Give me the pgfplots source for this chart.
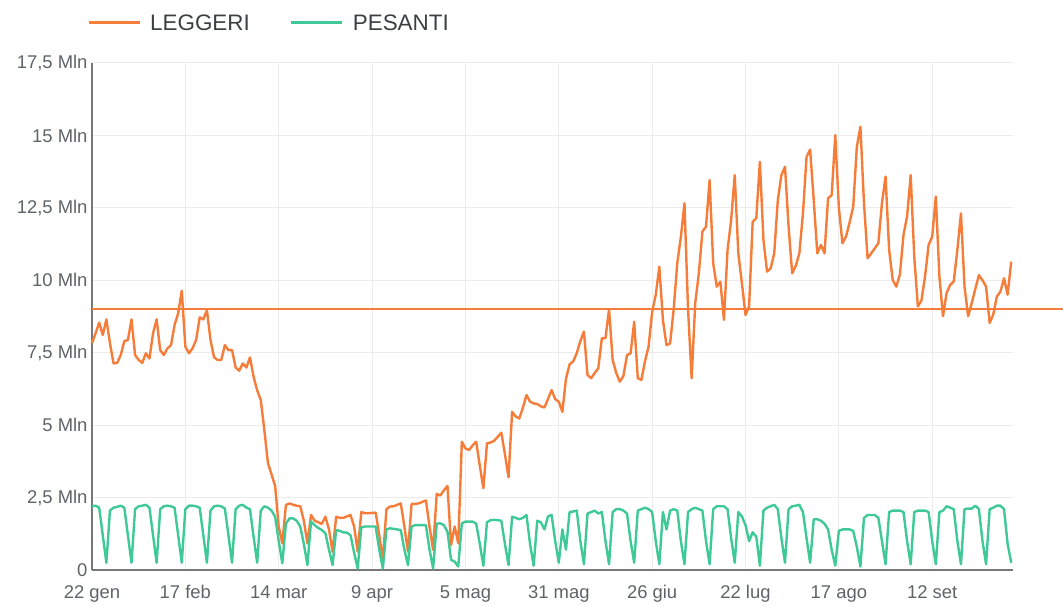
\documentclass[border=0pt]{standalone}
\usepackage{pgfplots}
\pgfplotsset{compat=1.18}
\usepackage{pgfplotstable}
\usepackage{fontspec}
\setmainfont{Liberation Sans}
\definecolor{cL}{RGB}{246,124,58}
\definecolor{cP}{RGB}{62,201,150}
\definecolor{gridc}{RGB}{236,236,236}
\definecolor{tickc}{RGB}{95,99,104}
\definecolor{legc}{RGB}{60,64,67}
\definecolor{axisc}{RGB}{120,120,120}

\pgfplotstableread{
d L P
0 7.83 2.2
1 8.17 2.22
2 8.54 2.15
3 8.11 1.2
4 8.65 0.25
5 7.83 2.05
6 7.13 2.15
7 7.15 2.18
8 7.42 2.22
9 7.9 2.15
10 7.94 1.2
11 8.65 0.25
12 7.42 2.1
13 7.25 2.2
14 7.15 2.22
15 7.48 2.25
16 7.3 2.15
17 8.17 1.2
18 8.65 0.25
19 7.59 2.1
20 7.42 2.2
21 7.65 2.22
22 7.76 2.2
23 8.46 2.15
24 8.86 1.2
25 9.64 0.25
26 7.71 2.1
27 7.48 2.22
28 7.65 2.22
29 7.94 2.2
30 8.72 2.15
31 8.65 1.2
32 8.97 0.25
33 7.94 2.05
34 7.34 2.2
35 7.25 2.22
36 7.25 2.2
37 7.76 2.12
38 7.59 1.2
39 7.59 0.25
40 6.99 2.1
41 6.88 2.22
42 7.13 2.25
43 6.99 2.15
44 7.34 2.1
45 6.67 1.15
46 6.2 0.25
47 5.87 2.05
48 4.83 2.2
49 3.69 2.15
50 3.3 2.05
51 2.9 1.84
52 1.5 1.0
53 0.92 0.23
54 2.24 1.6
55 2.3 1.78
56 2.25 1.78
57 2.22 1.7
58 2.2 1.5
59 1.7 0.9
60 0.92 0.17
61 1.9 1.67
62 1.7 1.55
63 1.65 1.45
64 1.59 1.38
65 1.84 1.27
66 1.4 0.7
67 0.63 0.17
68 1.84 1.38
69 1.8 1.35
70 1.8 1.3
71 1.85 1.29
72 1.9 1.2
73 1.5 0.6
74 0.63 0.05
75 2.0 1.47
76 1.96 1.5
77 1.96 1.5
78 1.97 1.5
79 1.98 1.5
80 1.2 0.7
81 0.35 0.05
82 2.1 1.4
83 2.19 1.44
84 2.2 1.42
85 2.25 1.4
86 2.3 1.38
87 1.5 0.7
88 0.63 0.17
89 2.28 1.5
90 2.28 1.55
91 2.3 1.55
92 2.35 1.55
93 2.4 1.55
94 1.5 0.7
95 0.69 0.05
96 2.63 1.6
97 2.57 1.61
98 2.75 1.55
99 2.9 1.32
100 0.86 0.35
101 1.5 0.29
102 0.92 0.12
103 4.43 1.61
104 4.2 1.67
105 4.14 1.67
106 4.3 1.67
107 4.43 1.6
108 3.6 0.9
109 2.82 0.15
110 4.37 1.65
111 4.4 1.72
112 4.46 1.73
113 4.6 1.72
114 4.74 1.7
115 4.0 0.9
116 3.2 0.17
117 5.46 1.84
118 5.3 1.8
119 5.23 1.75
120 5.6 1.8
121 6.04 1.9
122 5.81 0.9
123 5.75 0.15
124 5.73 1.7
125 5.65 1.65
126 5.61 1.4
127 5.9 1.85
128 6.21 1.9
129 5.9 1.0
130 5.81 0.25
131 5.46 1.4
132 6.6 0.7
133 7.1 2.0
134 7.2 2.02
135 7.48 2.05
136 7.9 1.0
137 8.23 0.2
138 6.73 1.95
139 6.62 2.0
140 6.8 2.05
141 6.96 1.95
142 8.0 2.0
143 8.0 1.0
144 9.0 0.2
145 7.25 2.0
146 6.8 2.1
147 6.5 2.1
148 6.7 2.05
149 7.42 1.95
150 7.48 1.0
151 8.57 0.25
152 6.62 2.05
153 6.56 2.1
154 7.2 2.15
155 7.71 2.1
156 8.9 2.0
157 9.5 1.0
158 10.47 0.2
159 8.63 2.0
160 7.76 1.4
161 7.82 2.05
162 9.0 2.1
163 10.6 2.05
164 11.5 1.0
165 12.66 0.2
166 9.0 2.0
167 6.62 2.1
168 9.21 2.15
169 10.24 2.1
170 11.68 2.05
171 11.85 1.0
172 13.46 0.2
173 10.59 2.1
174 9.78 2.2
175 9.95 2.2
176 8.63 2.2
177 11.05 2.1
178 12.08 1.1
179 13.63 0.25
180 10.93 2.0
181 9.9 1.85
182 8.8 1.55
183 9.1 1.0
184 12.02 1.3
185 12.14 1.15
186 14.09 0.15
187 11.39 2.05
188 10.3 2.15
189 10.41 2.2
190 10.93 2.25
191 12.77 2.1
192 13.63 1.1
193 13.92 0.25
194 11.85 2.1
195 10.24 2.2
196 10.5 2.22
197 10.93 2.25
198 12.31 2.0
199 14.26 1.1
200 14.51 0.25
201 12.77 1.75
202 10.93 1.75
203 11.22 1.7
204 10.93 1.6
205 12.83 1.4
206 12.94 0.7
207 15.01 0.15
208 12.5 1.35
209 11.28 1.4
210 11.51 1.4
211 12.0 1.4
212 12.54 1.35
213 14.6 0.8
214 15.3 0.12
215 12.66 1.8
216 10.76 1.9
217 10.93 1.9
218 11.1 1.9
219 11.28 1.8
220 12.66 1.0
221 13.58 0.2
222 11.05 2.0
223 10.01 2.05
224 9.78 2.05
225 10.2 2.05
226 11.57 2.0
227 12.2 1.0
228 13.63 0.2
229 10.81 2.0
230 9.1 2.05
231 9.3 2.05
232 10.13 2.05
233 11.22 2.0
234 11.51 1.0
235 12.89 0.2
236 10.13 2.0
237 8.76 2.05
238 9.56 2.2
239 9.84 2.15
240 9.96 2.1
241 11.05 1.0
242 12.31 0.2
243 9.78 2.1
244 8.76 2.12
245 9.21 2.12
246 9.7 2.22
247 10.18 2.1
248 10.0 1.0
249 9.78 0.2
250 8.53 2.1
251 8.82 2.15
252 9.44 2.22
253 9.61 2.22
254 10.07 2.1
255 9.5 0.9
256 10.64 0.25
}\datatable

\begin{document}
\begin{tikzpicture}
\useasboundingbox (0,0) rectangle (1063bp,607bp);
\begin{axis}[
  at={(92bp,37bp)}, anchor=south west,
  width=921bp, height=507bp, scale only axis,
  xmin=0, xmax=256.5, ymin=0, ymax=17.5,
  clip=false,
  axis x line*=bottom, axis y line*=left,
  x axis line style={draw=axisc, line width=1.6bp},
  y axis line style={draw=axisc, line width=1.2bp},
  xtick={0,26,52,78,104,130,156,182,208,234},
  xticklabels={22 gen,17 feb,14 mar,9 apr,5 mag,31 mag,26 giu,22 lug,17 ago,12 set},
  ytick={0,2.5,5,7.5,10,12.5,15,17.5},
  yticklabels={0,{2,5 Mln},5 Mln,{7,5 Mln},10 Mln,{12,5 Mln},15 Mln,{17,5 Mln}},
  major tick length=0pt,
  grid=major,
  major grid style={draw=gridc, line width=1bp},
  tick label style={font=\fontsize{18.5}{22}\selectfont, text=tickc},
  xticklabel style={anchor=north, yshift=-12bp},
  yticklabel style={anchor=east, xshift=-1bp},
  legend columns=2,
  legend image code/.code={\draw[#1, line width=3bp] (0bp,0bp) -- (51bp,0bp);},
  legend style={at={(0,1)}, anchor=west, xshift=-5bp, yshift=40bp,
    draw=none, fill=none, inner sep=0pt,
    font=\fontsize{22.5}{26}\selectfont, text=legc,
    nodes={inner sep=0pt},
    /tikz/every odd column/.append style={column sep=9bp},
    /tikz/every even column/.append style={column sep=40bp}},
  legend cell align=left,
]
\addplot[cL, line width=2.4bp, line join=round] table[x=d, y=L] {\datatable};
\addlegendentry{LEGGERI}
\addplot[cP, line width=2.4bp, line join=round] table[x=d, y=P] {\datatable};
\addlegendentry{PESANTI}
\addplot[cL, line width=2bp, forget plot] coordinates {(0,9) (275,9)};
\end{axis}
\end{tikzpicture}
\end{document}
